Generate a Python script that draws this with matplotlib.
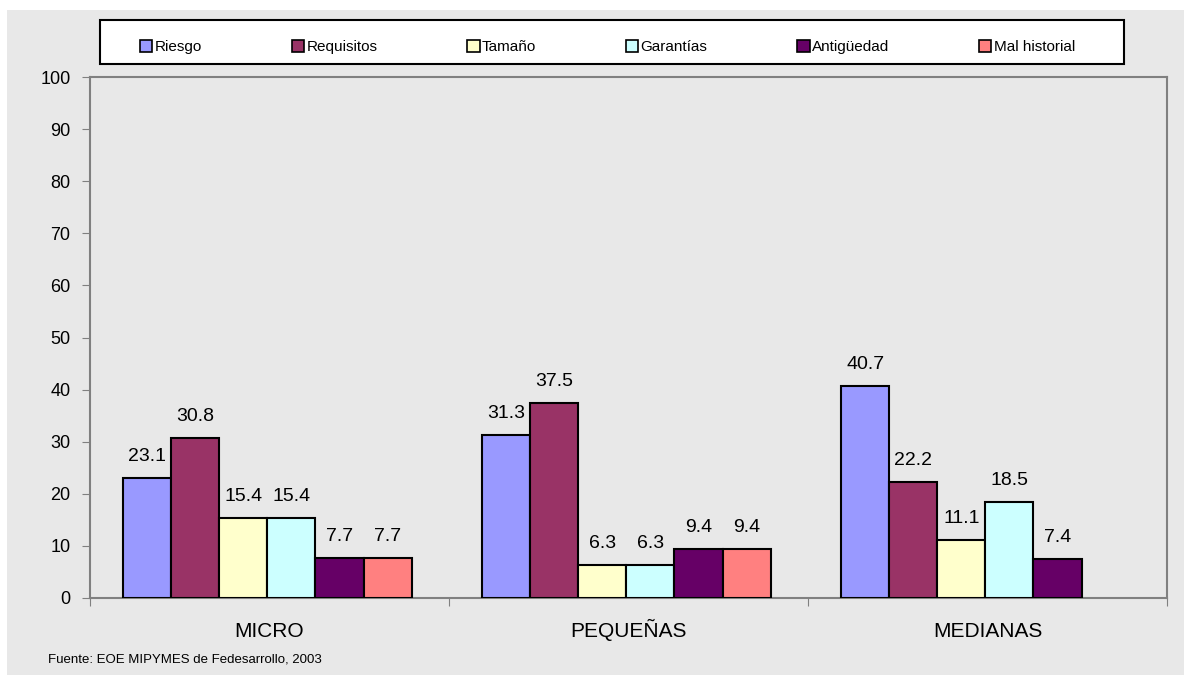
import numpy as np
import matplotlib.pyplot as plt
from matplotlib.patches import Rectangle, Patch

plt.rcParams['font.family'] = ['Liberation Sans', 'DejaVu Sans']

grupos = ['MICRO', 'PEQUEÑAS', 'MEDIANAS']
series = ['Riesgo', 'Requisitos', 'Tamaño', 'Garantías', 'Antigüedad', 'Mal historial']
riesgo = [23.1, 31.3, 40.7]
requisitos = [30.8, 37.5, 22.2]
tamano = [15.4, 6.3, 11.1]
garantias = [15.4, 6.3, 18.5]
antiguedad = [7.7, 9.4, 7.4]
mal_historial = [7.7, 9.4, None]  # sin dato para medianas
colores = ['#9999FF', '#993366', '#FFFFCC', '#CCFFFF', '#660066', '#FF8080']

valores = [riesgo, requisitos, tamano, garantias, antiguedad, mal_historial]

W, H = 1184, 677
fig = plt.figure(figsize=(W / 100, H / 100), dpi=100)
fig.patch.set_facecolor('white')

# fondo gris del grafico
fondo = fig.add_axes([7 / W, 2 / H, 1 - 7 / W, 665 / H], zorder=-5)
fondo.set_facecolor('#E8E8E8')
fondo.set_xticks([])
fondo.set_yticks([])
for s in fondo.spines.values():
    s.set_visible(False)

ax = fig.add_axes([90 / W, 1 - 598 / H, (1167 - 90) / W, (598 - 77) / H])
ax.set_facecolor('#E8E8E8')

x = np.arange(len(grupos))
ancho = 0.134
for i, (nombre, vals, c) in enumerate(zip(series, valores, colores)):
    pos = x - 2.5 * ancho + i * ancho - 0.006
    for xp, v in zip(pos, vals):
        if v is None:
            continue
        ax.bar(xp, v, width=ancho, color=c, edgecolor='black', linewidth=1.5, zorder=3)
        ax.text(xp, v + 2.5, f'{v:.1f}', ha='center', va='bottom', fontsize=14, color='black')

ax.set_xlim(-0.5, 2.5)
ax.set_ylim(0, 100)
ax.set_yticks(range(0, 101, 10))
ax.tick_params(axis='y', labelsize=13, length=6, color='#808080', pad=8)
ax.set_xticks([-0.5, 0.5, 1.5, 2.5])
ax.set_xticklabels([])
ax.tick_params(axis='x', which='major', length=6, color='#808080', direction='out')

# nombres de los grupos con la misma linea base
for xc, g in zip(x, grupos):
    ax.text(xc, -39 / 521, g, transform=ax.get_xaxis_transform(),
            ha='center', va='baseline', fontsize=15)

for s in ax.spines.values():
    s.set_color('#808080')
    s.set_linewidth(1.5)

# recuadro blanco de la leyenda
fig.patches.append(Rectangle((100 / W, 1 - 64 / H), 1024 / W, 44 / H,
                             transform=fig.transFigure, facecolor='white',
                             edgecolor='black', linewidth=1.5))
handles = [Patch(facecolor=c, edgecolor='black', linewidth=1.2) for c in colores]
leg = fig.legend(handles, series, loc='center left', ncol=6, mode='expand',
                 bbox_to_anchor=(140 / W, 1 - 69 / H, 935 / W, 44 / H),
                 fontsize=11, frameon=False, borderaxespad=0,
                 handlelength=0.8, handleheight=0.8, handletextpad=0.15,
                 borderpad=0)

fig.text(48 / W, 1 - 662 / H, 'Fuente: EOE MIPYMES de Fedesarrollo, 2003',
         fontsize=9.5, va='baseline', ha='left')

fig.savefig('out.png', dpi=100)
